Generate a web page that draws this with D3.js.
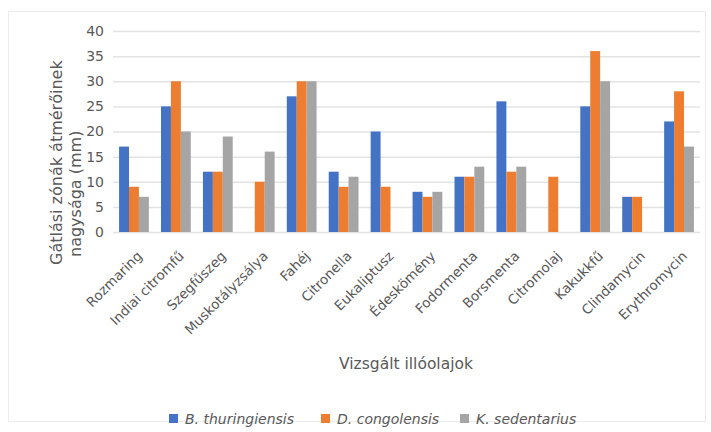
<!DOCTYPE html>
<html>
<head>
<meta charset="utf-8">
<script src="https://cdn.jsdelivr.net/npm/d3@7"></script>
<style>
  body { margin: 0; background: #fff; }
  text { font-family: "DejaVu Sans", sans-serif; fill: #595959; }
</style>
</head>
<body>
<script>
const w = 711;
const h = 432;

// data
const categories = ["Rozmaring", "Indiai citromfű", "Szegfűszeg", "Muskotályzsálya", "Fahéj", "Citronella",
  "Eukaliptusz", "Édeskömény", "Fodormenta", "Borsmenta", "Citromolaj", "Kakukkfű", "Clindamycin", "Erythromycin"];
const seriesNames = ["B. thuringiensis", "D. congolensis", "K. sedentarius"];
const bThuringiensis = [17, 25, 12, 0, 27, 12, 20, 8, 11, 26, 0, 25, 7, 22];
const dCongolensis = [9, 30, 12, 10, 30, 9, 9, 7, 11, 12, 11, 36, 7, 28];
const kSedentarius = [7, 20, 19, 16, 30, 11, 0, 8, 13, 13, 0, 30, 0, 17];
const yTicks = [0, 5, 10, 15, 20, 25, 30, 35, 40];
const colors = ["#4472C4", "#ED7D31", "#A5A5A5"];

const seriesValues = [bThuringiensis, dCongolensis, kSedentarius];
const rows = categories.map((c, i) => ({ cat: c, vals: seriesValues.map(s => s[i]) }));

const svg = d3.select("body").append("svg").attr("width", w).attr("height", h);

// border of chart area
svg.append("rect")
  .attr("x", 8.5).attr("y", 11.5)
  .attr("width", 697).attr("height", 410)
  .attr("fill", "none").attr("stroke", "#ececec");

const pLeft = 113, pRight = 700, pTop = 31, pBottom = 232;

const xScale = d3.scaleBand().domain(categories).range([pLeft, pRight]).paddingInner(0.29).paddingOuter(0.145);
const xSub = d3.scaleBand().domain(d3.range(3)).range([0, xScale.bandwidth()]);
const yScale = d3.scaleLinear().domain([0, 40]).range([pBottom, pTop]);

// gridlines
svg.append("g")
  .selectAll("line")
  .data(yTicks)
  .enter()
  .append("line")
  .attr("x1", pLeft).attr("x2", pRight)
  .attr("y1", d => yScale(d) + 0.5).attr("y2", d => yScale(d) + 0.5)
  .attr("stroke", "#e3e3e3").attr("stroke-width", 1.5);

// y axis labels
const yAxis = d3.axisLeft(yScale).tickValues(yTicks).tickSize(0).tickPadding(9);
const gy = svg.append("g").attr("transform", "translate(" + pLeft + ",0)").call(yAxis);
gy.select(".domain").remove();
gy.selectAll("text")
  .style("font-family", "DejaVu Sans")
  .style("font-size", "14px")
  .style("fill", "#595959");

// bars
const groups = svg.selectAll(".grp")
  .data(rows)
  .enter()
  .append("g")
  .attr("transform", d => "translate(" + xScale(d.cat) + ",0)");

groups.selectAll("rect")
  .data(d => d.vals)
  .enter()
  .append("rect")
  .attr("x", (v, i) => xSub(i))
  .attr("width", xSub.bandwidth())
  .attr("y", v => yScale(v))
  .attr("height", v => yScale(0) - yScale(v))
  .attr("fill", (v, i) => colors[i]);

// x axis labels
const xAxis = d3.axisBottom(xScale).tickSize(0).tickPadding(0);
const gx = svg.append("g").attr("transform", "translate(0," + pBottom + ")").call(xAxis);
gx.select(".domain").remove();
gx.selectAll("text")
  .style("font-family", "DejaVu Sans")
  .style("font-size", "13.5px")
  .style("fill", "#595959")
  .attr("text-anchor", "end")
  .attr("y", 0)
  .attr("dy", "0")
  .attr("transform", "translate(9,25) rotate(-45)");

// y title
const yTitle = svg.append("text")
  .attr("transform", "rotate(-90)")
  .attr("text-anchor", "start")
  .style("font-size", "16px");
yTitle.append("tspan").attr("x", -265).attr("y", 62).text("Gátlási zónák átmérőinek");
yTitle.append("tspan").attr("x", -257).attr("y", 81).text("nagysága (mm)");

// x title
svg.append("text")
  .attr("x", 406).attr("y", 369)
  .attr("text-anchor", "middle")
  .style("font-size", "15.5px")
  .text("Vizsgált illóolajok");

// legend
const legendX = [169, 321, 460];
const leg = svg.selectAll(".leg")
  .data(seriesNames)
  .enter()
  .append("g")
  .attr("transform", (d, i) => "translate(" + legendX[i] + ",414)");
leg.append("rect").attr("width", 9).attr("height", 9).attr("fill", (d, i) => colors[i]);
leg.append("text")
  .attr("x", 16).attr("y", 9.5)
  .style("font-size", "14px")
  .style("font-style", "italic")
  .text(d => d);
</script>
</body>
</html>
